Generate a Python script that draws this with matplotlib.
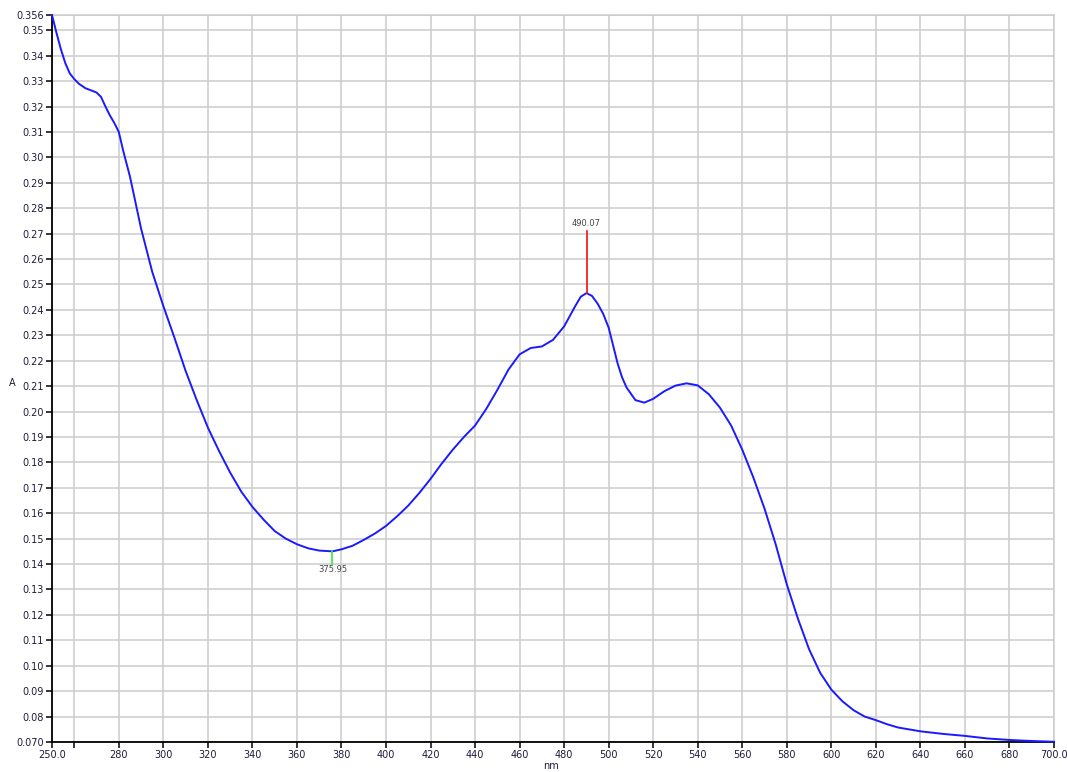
import matplotlib
matplotlib.use('Agg')
import matplotlib.pyplot as plt
import numpy as np

# absorbance spectrum, nm vs A
wavelength = [250, 252, 254, 256, 258, 260, 262, 265, 268, 270,
              272, 274, 276, 278, 280, 282, 285, 290, 295, 300,
              305, 310, 315, 320, 325, 330, 335, 340, 345, 350,
              355, 360, 365, 370, 375.95, 380, 385, 390, 395, 400,
              405, 410, 415, 420, 425, 430, 435, 440, 445, 450,
              455, 460, 465, 470, 475, 480, 485, 487.5, 490.07, 492.5,
              495, 497.5, 500, 502, 504, 506, 508, 512, 516, 520,
              525, 530, 535, 540, 545, 550, 555, 560, 565, 570,
              575, 580, 585, 590, 595, 600, 605, 610, 615, 620,
              625, 630, 640, 650, 660, 670, 680, 690, 700]
absorbance = [0.3560, 0.3490, 0.3425, 0.3370, 0.3330, 0.3308, 0.3290, 0.3272, 0.3262, 0.3255,
              0.3238, 0.3200, 0.3165, 0.3135, 0.3100, 0.3025, 0.2925, 0.2720, 0.2550, 0.2415,
              0.2290, 0.2160, 0.2045, 0.1937, 0.1845, 0.1760, 0.1685, 0.1625, 0.1575, 0.1530,
              0.1500, 0.1478, 0.1462, 0.1453, 0.1450, 0.1458, 0.1472, 0.1495, 0.1520, 0.1550,
              0.1588, 0.1630, 0.1680, 0.1735, 0.1795, 0.1850, 0.1900, 0.1945, 0.2010, 0.2085,
              0.2165, 0.2225, 0.2250, 0.2256, 0.2282, 0.2335, 0.2415, 0.2452, 0.2466, 0.2455,
              0.2425, 0.2385, 0.2330, 0.2260, 0.2190, 0.2135, 0.2095, 0.2045, 0.2035, 0.2050,
              0.2080, 0.2102, 0.2111, 0.2103, 0.2068, 0.2015, 0.1945, 0.1850, 0.1740, 0.1618,
              0.1478, 0.1320, 0.1185, 0.1065, 0.0972, 0.0906, 0.0860, 0.0825, 0.0800, 0.0786,
              0.0770, 0.0757, 0.0742, 0.0732, 0.0724, 0.0714, 0.0708, 0.0704, 0.0701]

# picked peak / valley
peak_nm, peak_a = 490.07, 0.2466
valley_nm, valley_a = 375.95, 0.1450

xticks = [250, 260] + list(range(280, 700, 20)) + [700]
xlabels = ['250.0', ''] + [str(v) for v in range(280, 700, 20)] + ['700.0']
yticks = [round(0.07 + 0.01 * i, 2) for i in range(29)] + [0.356]
ylabels = ['0.070'] + ['%.2f' % v for v in yticks[1:-1]] + ['0.356']

txt_col = '#1c1c3c'

fig = plt.figure(figsize=(10.67, 7.72), dpi=100)
ax = fig.add_axes([52 / 1067, 1 - 742 / 772, 1002 / 1067, 727 / 772])

ax.plot(wavelength, absorbance, color='#1a1aff', lw=1.4, zorder=3, clip_on=False,
        solid_joinstyle='round')

# peak marker (red, up) and valley marker (green, down)
ax.plot([peak_nm, peak_nm], [peak_a, 0.2712], color='#ee1111', lw=1.2, zorder=4)
ax.text(peak_nm, 0.2722, '%.2f' % peak_nm, fontsize=6, color='#444444',
        ha='center', va='bottom')
ax.plot([valley_nm, valley_nm], [valley_a, 0.1402], color='#33ee33', lw=1.2, zorder=4)
ax.text(valley_nm, 0.1395, '%.2f' % valley_nm, fontsize=6, color='#444444',
        ha='center', va='top')

ax.set_xlim(250, 700)
ax.set_ylim(0.070, 0.356)
ax.set_xticks(xticks)
ax.set_xticklabels(xlabels)
ax.set_yticks(yticks)
ax.set_yticklabels(ylabels)
ax.tick_params(labelsize=7, colors='black', labelcolor=txt_col, length=4, width=1.1,
               pad=2)

ax.grid(True, color='#cccccc', lw=1.1, zorder=0)
ax.set_axisbelow(True)
for s in ['left', 'bottom']:
    ax.spines[s].set_color('black')
    ax.spines[s].set_linewidth(1.3)
for s in ['top', 'right']:
    ax.spines[s].set_color('#cccccc')
    ax.spines[s].set_linewidth(1.1)

fig.text(12 / 1067, 1 - 383 / 772, 'A', fontsize=7, color=txt_col, ha='center', va='center')
fig.text(551 / 1067, 1 - 766 / 772, 'nm', fontsize=7, color=txt_col, ha='center', va='center')

plt.savefig('out.png', dpi=100)
